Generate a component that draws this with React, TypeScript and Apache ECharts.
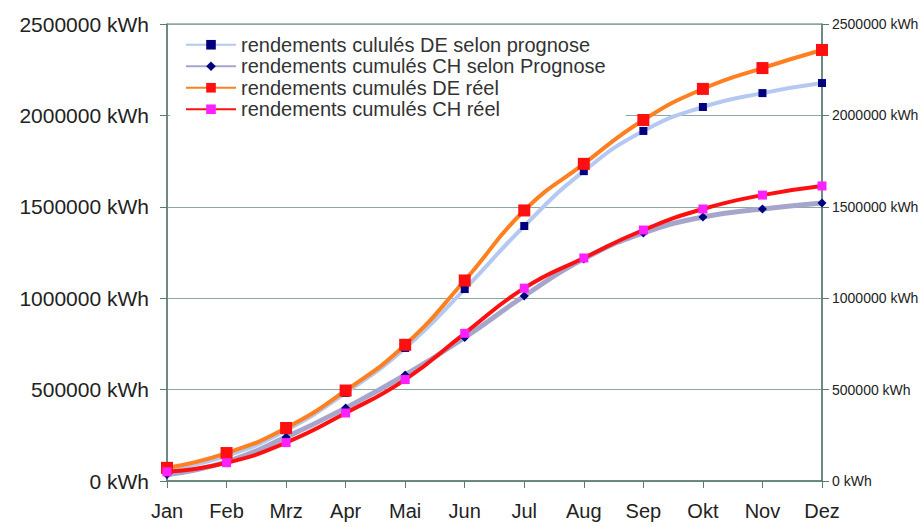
import React, { useEffect, useRef } from "react";
import * as echarts from "echarts";

const months = ["Jan", "Feb", "Mrz", "Apr", "Mai", "Jun", "Jul", "Aug", "Sep", "Okt", "Nov", "Dez"];
const seriesNames = [
  "rendements culul\u00e9s DE selon prognose",
  "rendements cumul\u00e9s CH selon Prognose",
  "rendements cumul\u00e9s DE r\u00e9el",
  "rendements cumul\u00e9s CH r\u00e9el",
];
const dePrognose = [62000, 138000, 278000, 482000, 728000, 1050000, 1395000, 1695000, 1915000, 2046000, 2122000, 2177000];
const chPrognose = [35000, 105000, 240000, 400000, 580000, 785000, 1012000, 1215000, 1357000, 1444000, 1488000, 1521000];
const deReel = [72000, 153000, 290000, 495000, 745000, 1097000, 1480000, 1735000, 1975000, 2145000, 2259000, 2358000];
const chReel = [50000, 100000, 210000, 372000, 555000, 808000, 1055000, 1220000, 1373000, 1488000, 1564000, 1614000];
const yMax = 2500000;
const yStep = 500000;

const AXIS = "#5a7a72";
const GRID = "#8fa89f";
const FONT = "Liberation Sans, Arial, sans-serif";

export default function App() {
  const ref = useRef<HTMLDivElement>(null);
  useEffect(() => {
    if (!ref.current) return;
    const chart = echarts.init(ref.current, undefined, { renderer: "svg" });
    const fmt = (v: number) => `${v} kWh`;
    chart.setOption({
      animation: false,
      backgroundColor: "#ffffff",
      textStyle: { fontFamily: FONT },
      grid: {
        left: 167,
        right: 101,
        top: 24,
        bottom: 46,
        show: true,
        borderColor: AXIS,
        borderWidth: 1,
        backgroundColor: "transparent",
      },
      legend: {
        orient: "vertical",
        left: 170,
        top: 26,
        padding: [8, 20, 4, 15],
        backgroundColor: "#ffffff",
        itemWidth: 50,
        itemHeight: 12,
        itemGap: 0,
        textStyle: { fontSize: 20, color: "#333333", fontFamily: FONT, lineHeight: 21.5 },
        data: seriesNames,
      },
      xAxis: {
        type: "category",
        data: months,
        boundaryGap: false,
        axisLine: { lineStyle: { color: AXIS, width: 1.5 } },
        axisTick: { show: true, alignWithLabel: true, length: 7, lineStyle: { color: AXIS } },
        axisLabel: { fontSize: 20, color: "#222222", margin: 20, fontFamily: FONT },
        splitLine: { show: false },
      },
      yAxis: [
        {
          type: "value",
          min: 0,
          max: yMax,
          interval: yStep,
          position: "left",
          axisLine: { show: true, lineStyle: { color: AXIS, width: 1.5 } },
          axisTick: { show: true, length: 7, lineStyle: { color: AXIS } },
          axisLabel: { formatter: fmt, fontSize: 21, color: "#222222", margin: 18, fontFamily: FONT },
          splitLine: { show: true, lineStyle: { color: GRID, width: 1.2 } },
        },
        {
          type: "value",
          min: 0,
          max: yMax,
          interval: yStep,
          position: "right",
          axisLine: { show: true, lineStyle: { color: AXIS, width: 1.5 } },
          axisTick: { show: true, length: 7, lineStyle: { color: AXIS } },
          axisLabel: { formatter: fmt, fontSize: 14, color: "#222222", margin: 10, fontFamily: FONT },
          splitLine: { show: false },
        },
      ],
      series: [
        {
          name: seriesNames[0],
          type: "line",
          data: dePrognose,
          smooth: true,
          symbol: "rect",
          symbolSize: 8,
          lineStyle: { color: "#b4c8f2", width: 4 },
          itemStyle: { color: "#00007f" },
        },
        {
          name: seriesNames[1],
          type: "line",
          data: chPrognose,
          smooth: true,
          symbol: "diamond",
          symbolSize: 9,
          lineStyle: { color: "#a6a6cc", width: 5 },
          itemStyle: { color: "#00007f" },
        },
        {
          name: seriesNames[2],
          type: "line",
          data: deReel,
          smooth: true,
          symbol: "rect",
          symbolSize: 12,
          lineStyle: { color: "#ff7f21", width: 4 },
          itemStyle: { color: "#ff1010" },
        },
        {
          name: seriesNames[3],
          type: "line",
          data: chReel,
          smooth: true,
          symbol: "rect",
          symbolSize: 9,
          lineStyle: { color: "#ff1010", width: 4 },
          itemStyle: { color: "#ff20ff" },
        },
      ],
    });
    return () => chart.dispose();
  }, []);
  return (
    <div
      ref={ref}
      style={{ position: "fixed", left: 0, top: 0, width: 923, height: 527 }}
    />
  );
}
